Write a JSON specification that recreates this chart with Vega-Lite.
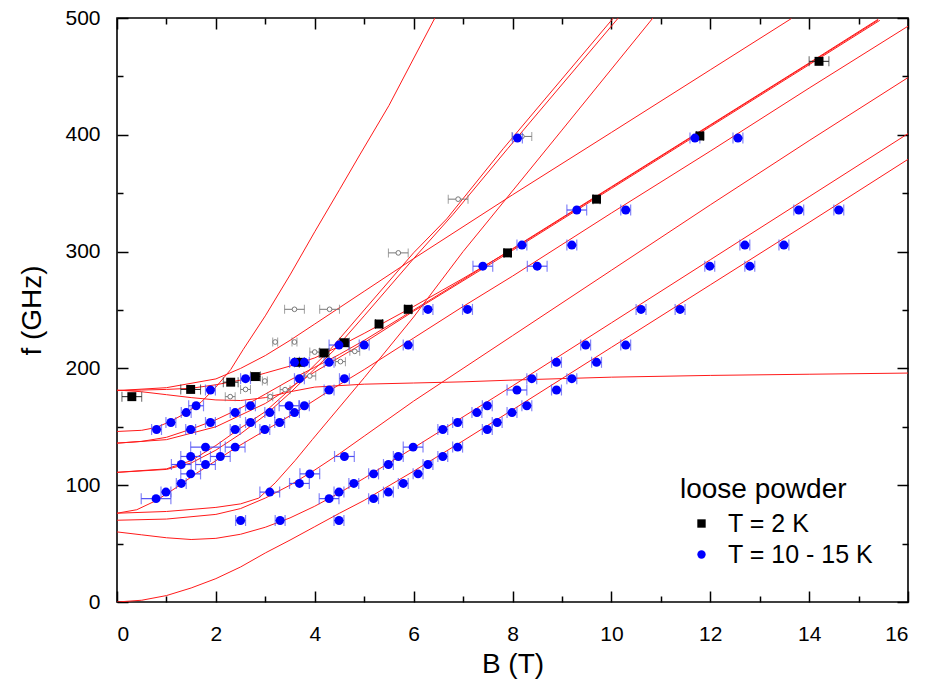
{
"$schema":"https://vega.github.io/schema/vega-lite/v6.json",
"width":791,"height":584,
"autosize":{"type":"none"},
"padding":{"left":117,"top":18,"right":17,"bottom":91},
"background":"white",
"config":{"view":{"stroke":"black","strokeWidth":1.6},"font":"Liberation Sans"},
"datasets":{
"curves":[
{"c":"L1","i":0,"B":0,"f":0},{"c":"L1","i":1,"B":0.5,"f":1.5},{"c":"L1","i":2,"B":1,"f":5.5},{"c":"L1","i":3,"B":1.5,"f":12},{"c":"L1","i":4,"B":2,"f":20},{"c":"L1","i":5,"B":2.5,"f":30},{"c":"L1","i":6,"B":3,"f":42},{"c":"L1","i":7,"B":3.5,"f":53},{"c":"L1","i":8,"B":4,"f":64.5},{"c":"L1","i":9,"B":4.5,"f":76},{"c":"L1","i":10,"B":5,"f":87},{"c":"L1","i":11,"B":6,"f":112},{"c":"L1","i":12,"B":7,"f":138},{"c":"L1","i":13,"B":8,"f":164.5},{"c":"L1","i":14,"B":10,"f":218},{"c":"L1","i":15,"B":12,"f":271.5},{"c":"L1","i":16,"B":14,"f":325},{"c":"L1","i":17,"B":16,"f":379},
{"c":"L2","i":0,"B":0,"f":60},{"c":"L2","i":1,"B":0.5,"f":57.5},{"c":"L2","i":2,"B":1,"f":55},{"c":"L2","i":3,"B":1.5,"f":53.5},{"c":"L2","i":4,"B":2,"f":54.5},{"c":"L2","i":5,"B":2.5,"f":58},{"c":"L2","i":6,"B":3,"f":64},{"c":"L2","i":7,"B":3.5,"f":72},{"c":"L2","i":8,"B":4,"f":82},{"c":"L2","i":9,"B":4.5,"f":93.5},{"c":"L2","i":10,"B":5,"f":106},{"c":"L2","i":11,"B":6,"f":132},{"c":"L2","i":12,"B":7,"f":158.5},{"c":"L2","i":13,"B":8,"f":185},{"c":"L2","i":14,"B":10,"f":239},{"c":"L2","i":15,"B":12,"f":293},{"c":"L2","i":16,"B":14,"f":347},{"c":"L2","i":17,"B":16,"f":401},
{"c":"L3","i":0,"B":0,"f":70},{"c":"L3","i":1,"B":1,"f":71},{"c":"L3","i":2,"B":2,"f":75},{"c":"L3","i":3,"B":2.5,"f":80},{"c":"L3","i":4,"B":3,"f":89},{"c":"L3","i":5,"B":3.5,"f":100},{"c":"L3","i":6,"B":4,"f":113},{"c":"L3","i":7,"B":4.5,"f":127},{"c":"L3","i":8,"B":5,"f":142},{"c":"L3","i":9,"B":6,"f":172},{"c":"L3","i":10,"B":7,"f":200},{"c":"L3","i":11,"B":8,"f":228},{"c":"L3","i":12,"B":10,"f":284},{"c":"L3","i":13,"B":12,"f":340},{"c":"L3","i":14,"B":14,"f":395},{"c":"L3","i":15,"B":16,"f":449},
{"c":"L4","i":0,"B":0,"f":76},{"c":"L4","i":1,"B":0.4,"f":79},{"c":"L4","i":2,"B":0.8,"f":87},{"c":"L4","i":3,"B":1.2,"f":98},{"c":"L4","i":4,"B":1.6,"f":110},{"c":"L4","i":5,"B":2,"f":121},{"c":"L4","i":6,"B":2.4,"f":132},{"c":"L4","i":7,"B":3,"f":147},{"c":"L4","i":8,"B":3.6,"f":162},{"c":"L4","i":9,"B":4.3,"f":181},{"c":"L4","i":10,"B":5,"f":199},{"c":"L4","i":11,"B":6,"f":226},{"c":"L4","i":12,"B":7,"f":253},{"c":"L4","i":13,"B":8,"f":279},{"c":"L4","i":14,"B":10,"f":333},{"c":"L4","i":15,"B":12,"f":386},{"c":"L4","i":16,"B":14,"f":440},{"c":"L4","i":17,"B":16,"f":493},
{"c":"S4","i":0,"B":0,"f":76},{"c":"S4","i":1,"B":1,"f":77.5},{"c":"S4","i":2,"B":2,"f":81},{"c":"S4","i":3,"B":2.5,"f":84},{"c":"S4","i":4,"B":2.87,"f":89},{"c":"S4","i":5,"B":3.2,"f":102},{"c":"S4","i":6,"B":3.6,"f":121},{"c":"S4","i":7,"B":3.95,"f":139},{"c":"S4","i":8,"B":5,"f":192},{"c":"S4","i":9,"B":6,"f":244},{"c":"S4","i":10,"B":7,"f":300},{"c":"S4","i":11,"B":7.54,"f":328},{"c":"S4","i":12,"B":9,"f":404},{"c":"S4","i":13,"B":10.84,"f":500},
{"c":"S2","i":0,"B":0,"f":111},{"c":"S2","i":1,"B":1,"f":114},{"c":"S2","i":2,"B":1.5,"f":121},{"c":"S2","i":3,"B":2,"f":134},{"c":"S2","i":4,"B":2.5,"f":149},{"c":"S2","i":5,"B":3,"f":163},{"c":"S2","i":6,"B":3.5,"f":182},{"c":"S2","i":7,"B":4.31,"f":216},{"c":"S2","i":8,"B":5,"f":250},{"c":"S2","i":9,"B":6,"f":299},{"c":"S2","i":10,"B":6.67,"f":328},{"c":"S2","i":11,"B":7.81,"f":388},{"c":"S2","i":12,"B":10.04,"f":500},
{"c":"S3","i":0,"B":0,"f":111},{"c":"S3","i":1,"B":1,"f":113.5},{"c":"S3","i":2,"B":1.5,"f":119},{"c":"S3","i":3,"B":2,"f":130},{"c":"S3","i":4,"B":2.5,"f":144},{"c":"S3","i":5,"B":3,"f":160},{"c":"S3","i":6,"B":3.5,"f":179},{"c":"S3","i":7,"B":4.4,"f":216},{"c":"S3","i":8,"B":5,"f":245},{"c":"S3","i":9,"B":6,"f":294},{"c":"S3","i":10,"B":6.8,"f":332},{"c":"S3","i":11,"B":7.9,"f":388},{"c":"S3","i":12,"B":10.14,"f":500},
{"c":"S1","i":0,"B":0,"f":146},{"c":"S1","i":1,"B":0.5,"f":147},{"c":"S1","i":2,"B":0.8,"f":149.5},{"c":"S1","i":3,"B":1.1,"f":155},{"c":"S1","i":4,"B":1.4,"f":162},{"c":"S1","i":5,"B":1.7,"f":171},{"c":"S1","i":6,"B":2,"f":184},{"c":"S1","i":7,"B":2.3,"f":199},{"c":"S1","i":8,"B":2.55,"f":216},{"c":"S1","i":9,"B":3,"f":245},{"c":"S1","i":10,"B":3.5,"f":280},{"c":"S1","i":11,"B":4,"f":317},{"c":"S1","i":12,"B":4.5,"f":353},{"c":"S1","i":13,"B":4.92,"f":383.5},{"c":"S1","i":14,"B":5.5,"f":425},{"c":"S1","i":15,"B":6.43,"f":500},
{"c":"a","i":0,"B":0,"f":181},{"c":"a","i":1,"B":1,"f":183.5},{"c":"a","i":2,"B":2,"f":191},{"c":"a","i":3,"B":2.5,"f":200},{"c":"a","i":4,"B":3,"f":211},{"c":"a","i":5,"B":3.5,"f":224},{"c":"a","i":6,"B":4,"f":238},{"c":"a","i":7,"B":5,"f":266},{"c":"a","i":8,"B":6,"f":294},{"c":"a","i":9,"B":8,"f":348.6},{"c":"a","i":10,"B":10,"f":402},{"c":"a","i":11,"B":12,"f":455.6},{"c":"a","i":12,"B":13.64,"f":499.5},
{"c":"b1","i":0,"B":0,"f":181},{"c":"b1","i":1,"B":0.5,"f":181.5},{"c":"b1","i":2,"B":1,"f":182},{"c":"b1","i":3,"B":1.5,"f":183},{"c":"b1","i":4,"B":2,"f":186},{"c":"b1","i":5,"B":2.5,"f":190},{"c":"b1","i":6,"B":3,"f":196},{"c":"b1","i":7,"B":3.5,"f":202},{"c":"b1","i":8,"B":4,"f":209},{"c":"b1","i":9,"B":4.5,"f":219},{"c":"b1","i":10,"B":5,"f":230},{"c":"b1","i":11,"B":6,"f":253},{"c":"b1","i":12,"B":7,"f":277},{"c":"b1","i":13,"B":8,"f":302},{"c":"b1","i":14,"B":10,"f":355},{"c":"b1","i":15,"B":12,"f":408},{"c":"b1","i":16,"B":14,"f":461},{"c":"b1","i":17,"B":15.39,"f":498},
{"c":"b2","i":0,"B":0,"f":136},{"c":"b2","i":1,"B":0.5,"f":137.5},{"c":"b2","i":2,"B":1,"f":141},{"c":"b2","i":3,"B":1.5,"f":148},{"c":"b2","i":4,"B":2,"f":156},{"c":"b2","i":5,"B":2.5,"f":166},{"c":"b2","i":6,"B":3,"f":178},{"c":"b2","i":7,"B":3.5,"f":190},{"c":"b2","i":8,"B":4,"f":201},{"c":"b2","i":9,"B":4.5,"f":212},{"c":"b2","i":10,"B":5,"f":224},{"c":"b2","i":11,"B":6,"f":250},{"c":"b2","i":12,"B":7,"f":276},{"c":"b2","i":13,"B":8,"f":302.5},{"c":"b2","i":14,"B":10,"f":355.5},{"c":"b2","i":15,"B":12,"f":408.5},{"c":"b2","i":16,"B":14,"f":461.5},{"c":"b2","i":17,"B":15.4,"f":499},
{"c":"b3","i":0,"B":0,"f":136},{"c":"b3","i":1,"B":1,"f":139},{"c":"b3","i":2,"B":2,"f":150},{"c":"b3","i":3,"B":3,"f":170},{"c":"b3","i":4,"B":4,"f":197},{"c":"b3","i":5,"B":5,"f":222},{"c":"b3","i":6,"B":6,"f":249},{"c":"b3","i":7,"B":8,"f":301},{"c":"b3","i":8,"B":10,"f":354},{"c":"b3","i":9,"B":12,"f":407},{"c":"b3","i":10,"B":14,"f":460},{"c":"b3","i":11,"B":15.43,"f":498},
{"c":"A","i":0,"B":0,"f":181.5},{"c":"A","i":1,"B":0.5,"f":180},{"c":"A","i":2,"B":1,"f":177.5},{"c":"A","i":3,"B":1.5,"f":175},{"c":"A","i":4,"B":2,"f":173},{"c":"A","i":5,"B":2.5,"f":172.5},{"c":"A","i":6,"B":3,"f":175},{"c":"A","i":7,"B":3.5,"f":180},{"c":"A","i":8,"B":4,"f":184},{"c":"A","i":9,"B":5,"f":186.5},{"c":"A","i":10,"B":6,"f":187.5},{"c":"A","i":11,"B":7,"f":188.5},{"c":"A","i":12,"B":8,"f":190},{"c":"A","i":13,"B":10,"f":192.5},{"c":"A","i":14,"B":12,"f":194},{"c":"A","i":15,"B":14,"f":195},{"c":"A","i":16,"B":16,"f":196}
],
"gray":[
{"B":2.29,"f":175.8,"lo":2.19,"hi":2.39},{"B":2.6,"f":182,"lo":2.5,"hi":2.7},{"B":2.99,"f":189.2,"lo":2.94,"hi":3.04},{"B":3.1,"f":175.8,"lo":3.05,"hi":3.15},{"B":3.4,"f":181.8,"lo":3.3,"hi":3.5},{"B":3.2,"f":222.6,"lo":3.15,"hi":3.25},{"B":3.59,"f":222.6,"lo":3.54,"hi":3.64},{"B":3.9,"f":193.5,"lo":3.78,"hi":4.02},{"B":4.0,"f":214,"lo":3.9,"hi":4.1},{"B":4.52,"f":205.8,"lo":4.42,"hi":4.62},{"B":4.81,"f":214.6,"lo":4.71,"hi":4.91},{"B":3.59,"f":250.6,"lo":3.39,"hi":3.79},{"B":4.3,"f":250.6,"lo":4.1,"hi":4.5},{"B":5.69,"f":298.9,"lo":5.49,"hi":5.89},{"B":6.9,"f":344.9,"lo":6.7,"hi":7.1},{"B":8.19,"f":398.6,"lo":7.99,"hi":8.39}
],
"pts":[
{"s":"T = 2 K","B":0.3,"f":175.8,"lo":0.1,"hi":0.5},{"s":"T = 2 K","B":1.49,"f":182,"lo":1.29,"hi":1.69},{"s":"T = 2 K","B":2.3,"f":188.2,"lo":2.15,"hi":2.45},{"s":"T = 2 K","B":2.8,"f":193,"lo":2.7,"hi":2.9},{"s":"T = 2 K","B":3.69,"f":205.2,"lo":3.59,"hi":3.79},{"s":"T = 2 K","B":4.19,"f":213.2,"lo":4.09,"hi":4.29},{"s":"T = 2 K","B":4.6,"f":222,"lo":4.5,"hi":4.7},{"s":"T = 2 K","B":5.3,"f":238,"lo":5.23,"hi":5.37},{"s":"T = 2 K","B":5.89,"f":250.6,"lo":5.82,"hi":5.96},{"s":"T = 2 K","B":7.9,"f":298.9,"lo":7.83,"hi":7.97},{"s":"T = 2 K","B":9.7,"f":344.9,"lo":9.63,"hi":9.77},{"s":"T = 2 K","B":11.79,"f":399,"lo":11.72,"hi":11.86},{"s":"T = 2 K","B":14.2,"f":462.9,"lo":14.0,"hi":14.4},
{"s":"T = 10 - 15 K","B":0.79,"f":88.5,"lo":0.49,"hi":1.09},{"s":"T = 10 - 15 K","B":0.99,"f":94.1,"lo":0.89,"hi":1.09},{"s":"T = 10 - 15 K","B":1.3,"f":101.5,"lo":1.2,"hi":1.4},{"s":"T = 10 - 15 K","B":1.49,"f":109.7,"lo":1.29,"hi":1.69},{"s":"T = 10 - 15 K","B":1.3,"f":117.7,"lo":1.1,"hi":1.5},{"s":"T = 10 - 15 K","B":1.79,"f":117.7,"lo":1.59,"hi":1.99},{"s":"T = 10 - 15 K","B":1.49,"f":124.6,"lo":1.29,"hi":1.69},{"s":"T = 10 - 15 K","B":2.09,"f":124.6,"lo":1.89,"hi":2.29},{"s":"T = 10 - 15 K","B":1.79,"f":132.6,"lo":1.49,"hi":2.09},{"s":"T = 10 - 15 K","B":2.39,"f":132.6,"lo":2.19,"hi":2.59},
{"s":"T = 10 - 15 K","B":0.8,"f":147.7,"lo":0.7,"hi":0.9},{"s":"T = 10 - 15 K","B":1.09,"f":153.7,"lo":0.99,"hi":1.19},{"s":"T = 10 - 15 K","B":1.4,"f":162.2,"lo":1.3,"hi":1.5},{"s":"T = 10 - 15 K","B":1.6,"f":168,"lo":1.45,"hi":1.75},{"s":"T = 10 - 15 K","B":1.89,"f":181.5,"lo":1.79,"hi":1.99},{"s":"T = 10 - 15 K","B":2.6,"f":191.2,"lo":2.5,"hi":2.7},
{"s":"T = 10 - 15 K","B":1.49,"f":147.7,"lo":1.39,"hi":1.59},{"s":"T = 10 - 15 K","B":1.89,"f":153.7,"lo":1.79,"hi":1.99},{"s":"T = 10 - 15 K","B":2.39,"f":162.2,"lo":2.29,"hi":2.49},{"s":"T = 10 - 15 K","B":2.7,"f":168,"lo":2.6,"hi":2.8},
{"s":"T = 10 - 15 K","B":2.39,"f":147.7,"lo":2.29,"hi":2.49},{"s":"T = 10 - 15 K","B":2.7,"f":153.7,"lo":2.6,"hi":2.8},{"s":"T = 10 - 15 K","B":2.99,"f":147.7,"lo":2.89,"hi":3.09},{"s":"T = 10 - 15 K","B":3.29,"f":153.7,"lo":3.19,"hi":3.39},{"s":"T = 10 - 15 K","B":3.09,"f":162.2,"lo":2.99,"hi":3.19},{"s":"T = 10 - 15 K","B":3.48,"f":168,"lo":3.28,"hi":3.68},{"s":"T = 10 - 15 K","B":3.59,"f":162.2,"lo":3.49,"hi":3.69},{"s":"T = 10 - 15 K","B":3.79,"f":168,"lo":3.69,"hi":3.89},
{"s":"T = 10 - 15 K","B":4.29,"f":181.5,"lo":4.19,"hi":4.39},{"s":"T = 10 - 15 K","B":4.6,"f":191.2,"lo":4.5,"hi":4.7},{"s":"T = 10 - 15 K","B":3.69,"f":191.2,"lo":3.59,"hi":3.79},{"s":"T = 10 - 15 K","B":4.29,"f":205.2,"lo":4.19,"hi":4.39},{"s":"T = 10 - 15 K","B":3.59,"f":205.2,"lo":3.49,"hi":3.69},{"s":"T = 10 - 15 K","B":3.79,"f":205.2,"lo":3.69,"hi":3.89},{"s":"T = 10 - 15 K","B":4.49,"f":220,"lo":4.29,"hi":4.69},{"s":"T = 10 - 15 K","B":5.0,"f":220,"lo":4.9,"hi":5.1},{"s":"T = 10 - 15 K","B":5.89,"f":220,"lo":5.79,"hi":5.99},
{"s":"T = 10 - 15 K","B":3.09,"f":94.1,"lo":2.89,"hi":3.29},{"s":"T = 10 - 15 K","B":3.69,"f":101.5,"lo":3.49,"hi":3.89},{"s":"T = 10 - 15 K","B":3.9,"f":109.7,"lo":3.7,"hi":4.1},{"s":"T = 10 - 15 K","B":4.6,"f":124.6,"lo":4.4,"hi":4.8},
{"s":"T = 10 - 15 K","B":2.5,"f":69.8,"lo":2.4,"hi":2.6},{"s":"T = 10 - 15 K","B":3.3,"f":69.8,"lo":3.2,"hi":3.4},{"s":"T = 10 - 15 K","B":4.49,"f":69.8,"lo":4.39,"hi":4.59},{"s":"T = 10 - 15 K","B":4.29,"f":88.5,"lo":4.09,"hi":4.49},{"s":"T = 10 - 15 K","B":4.49,"f":94.1,"lo":4.39,"hi":4.59},{"s":"T = 10 - 15 K","B":4.79,"f":101.5,"lo":4.69,"hi":4.89},
{"s":"T = 10 - 15 K","B":5.19,"f":109.7,"lo":5.09,"hi":5.29},{"s":"T = 10 - 15 K","B":5.49,"f":117.7,"lo":5.39,"hi":5.59},{"s":"T = 10 - 15 K","B":5.69,"f":124.6,"lo":5.59,"hi":5.79},{"s":"T = 10 - 15 K","B":5.99,"f":132.6,"lo":5.79,"hi":6.19},
{"s":"T = 10 - 15 K","B":5.19,"f":88.5,"lo":5.09,"hi":5.29},{"s":"T = 10 - 15 K","B":5.49,"f":94.1,"lo":5.39,"hi":5.59},{"s":"T = 10 - 15 K","B":5.79,"f":101.5,"lo":5.69,"hi":5.89},{"s":"T = 10 - 15 K","B":6.09,"f":109.7,"lo":5.99,"hi":6.19},{"s":"T = 10 - 15 K","B":6.29,"f":117.7,"lo":6.19,"hi":6.39},{"s":"T = 10 - 15 K","B":6.59,"f":124.6,"lo":6.49,"hi":6.69},{"s":"T = 10 - 15 K","B":6.89,"f":132.6,"lo":6.79,"hi":6.99},
{"s":"T = 10 - 15 K","B":6.59,"f":147.7,"lo":6.49,"hi":6.69},{"s":"T = 10 - 15 K","B":6.89,"f":153.7,"lo":6.79,"hi":6.99},{"s":"T = 10 - 15 K","B":7.28,"f":162.2,"lo":7.18,"hi":7.38},
{"s":"T = 10 - 15 K","B":7.49,"f":147.7,"lo":7.39,"hi":7.59},{"s":"T = 10 - 15 K","B":7.69,"f":153.7,"lo":7.59,"hi":7.79},{"s":"T = 10 - 15 K","B":7.99,"f":162.2,"lo":7.89,"hi":8.09},{"s":"T = 10 - 15 K","B":8.29,"f":168,"lo":8.19,"hi":8.39},{"s":"T = 10 - 15 K","B":8.89,"f":181.5,"lo":8.79,"hi":8.99},{"s":"T = 10 - 15 K","B":9.2,"f":191.2,"lo":9.1,"hi":9.3},{"s":"T = 10 - 15 K","B":9.7,"f":205.2,"lo":9.6,"hi":9.8},{"s":"T = 10 - 15 K","B":10.29,"f":220,"lo":10.19,"hi":10.39},
{"s":"T = 10 - 15 K","B":7.49,"f":168,"lo":7.39,"hi":7.59},{"s":"T = 10 - 15 K","B":8.09,"f":181.5,"lo":7.89,"hi":8.29},{"s":"T = 10 - 15 K","B":8.39,"f":191.2,"lo":8.29,"hi":8.49},{"s":"T = 10 - 15 K","B":8.89,"f":205.2,"lo":8.79,"hi":8.99},{"s":"T = 10 - 15 K","B":9.48,"f":220,"lo":9.38,"hi":9.58},
{"s":"T = 10 - 15 K","B":10.6,"f":250.5,"lo":10.5,"hi":10.7},{"s":"T = 10 - 15 K","B":11.39,"f":250.5,"lo":11.29,"hi":11.49},{"s":"T = 10 - 15 K","B":11.99,"f":287.5,"lo":11.89,"hi":12.09},{"s":"T = 10 - 15 K","B":12.8,"f":287.5,"lo":12.7,"hi":12.9},{"s":"T = 10 - 15 K","B":12.7,"f":305.6,"lo":12.6,"hi":12.8},{"s":"T = 10 - 15 K","B":13.49,"f":305.6,"lo":13.39,"hi":13.59},{"s":"T = 10 - 15 K","B":13.79,"f":335.6,"lo":13.69,"hi":13.89},{"s":"T = 10 - 15 K","B":14.6,"f":335.6,"lo":14.5,"hi":14.7},
{"s":"T = 10 - 15 K","B":8.1,"f":397.2,"lo":8.0,"hi":8.2},{"s":"T = 10 - 15 K","B":9.3,"f":335.6,"lo":9.1,"hi":9.5},{"s":"T = 10 - 15 K","B":10.29,"f":335.6,"lo":10.19,"hi":10.39},{"s":"T = 10 - 15 K","B":8.19,"f":305.6,"lo":8.09,"hi":8.29},{"s":"T = 10 - 15 K","B":9.2,"f":305.6,"lo":9.1,"hi":9.3},{"s":"T = 10 - 15 K","B":8.5,"f":287.5,"lo":8.3,"hi":8.7},{"s":"T = 10 - 15 K","B":7.4,"f":287.5,"lo":7.2,"hi":7.6},
{"s":"T = 10 - 15 K","B":11.69,"f":397.2,"lo":11.59,"hi":11.79},{"s":"T = 10 - 15 K","B":12.56,"f":397.2,"lo":12.46,"hi":12.66},{"s":"T = 10 - 15 K","B":6.29,"f":250.5,"lo":6.19,"hi":6.39},{"s":"T = 10 - 15 K","B":7.09,"f":250.5,"lo":6.99,"hi":7.19}
]
},
"layer":[
{"data":{"name":"curves"},"mark":{"type":"line","color":"#ff1a1a","strokeWidth":1,"clip":true},
"encoding":{
"x":{"field":"B","type":"quantitative","scale":{"domain":[0,16],"nice":false,"zero":false},
"axis":{"orient":"bottom","values":[0,2,4,6,8,10,12,14,16],"title":"B (T)","domain":false,"grid":false,"tickSize":-11,"tickColor":"black","tickWidth":1.5,"labelFontSize":21,"labelColor":"black","labelPadding":32,"titleFontSize":28,"titleFontWeight":"normal","titleColor":"black","titlePadding":6,"labelFont":"Liberation Sans","titleFont":"Liberation Sans"}},
"y":{"field":"f","type":"quantitative","scale":{"domain":[0,500],"nice":false,"zero":false},
"axis":{"orient":"left","values":[0,100,200,300,400,500],"title":"f (GHz)","domain":false,"grid":false,"tickSize":-11,"tickColor":"black","tickWidth":1.5,"labelFontSize":21,"labelColor":"black","labelPadding":28,"titleFontSize":28,"titleFontWeight":"normal","titleColor":"black","titlePadding":18,"labelFont":"Liberation Sans","titleFont":"Liberation Sans"}},
"detail":{"field":"c"},"order":{"field":"i","type":"quantitative"}}},
{"data":{"name":"gray"},"mark":{"type":"rule","color":"#777777","strokeWidth":1},
"encoding":{"x":{"field":"lo","type":"quantitative","axis":{"orient":"bottom","values":[1,3,5,7,9,11,13,15],"labels":false,"title":null,"domain":false,"grid":false,"tickSize":-6,"tickColor":"black","tickWidth":1.5}},"x2":{"field":"hi"},
"y":{"field":"f","type":"quantitative","axis":{"orient":"left","values":[50,150,250,350,450],"labels":false,"title":null,"domain":false,"grid":false,"tickSize":-6,"tickColor":"black","tickWidth":1.5}}}},
{"data":{"name":"gray"},"transform":[{"fold":["lo","hi"],"as":["k","e"]}],"mark":{"type":"tick","orient":"vertical","color":"#777777","size":9,"thickness":1},
"encoding":{"x":{"field":"e","type":"quantitative","axis":{"orient":"top","values":[0,2,4,6,8,10,12,14,16],"labels":false,"title":null,"domain":false,"grid":false,"tickSize":-11,"tickColor":"black","tickWidth":1.5}},
"y":{"field":"f","type":"quantitative","axis":{"orient":"right","values":[0,100,200,300,400,500],"labels":false,"title":null,"domain":false,"grid":false,"tickSize":-11,"tickColor":"black","tickWidth":1.5}}}},
{"data":{"name":"gray"},"mark":{"type":"point","shape":"circle","filled":false,"fill":"white","stroke":"#777777","strokeWidth":1,"size":22,"opacity":1},
"encoding":{"x":{"field":"B","type":"quantitative","axis":{"orient":"top","values":[1,3,5,7,9,11,13,15],"labels":false,"title":null,"domain":false,"grid":false,"tickSize":-6,"tickColor":"black","tickWidth":1.5}},
"y":{"field":"f","type":"quantitative","axis":{"orient":"right","values":[50,150,250,350,450],"labels":false,"title":null,"domain":false,"grid":false,"tickSize":-6,"tickColor":"black","tickWidth":1.5}}}},
{"data":{"name":"pts"},"transform":[{"filter":"datum.s == 'T = 2 K'"}],"mark":{"type":"rule","color":"#222222","strokeWidth":1},
"encoding":{"x":{"field":"lo","type":"quantitative","axis":null},"x2":{"field":"hi"},"y":{"field":"f","type":"quantitative","axis":null}}},
{"data":{"name":"pts"},"transform":[{"filter":"datum.s == 'T = 2 K'"},{"fold":["lo","hi"],"as":["k","e"]}],"mark":{"type":"tick","orient":"vertical","color":"#222222","size":10,"thickness":1},
"encoding":{"x":{"field":"e","type":"quantitative","axis":null},"y":{"field":"f","type":"quantitative","axis":null}}},
{"data":{"name":"pts"},"transform":[{"filter":"datum.s != 'T = 2 K'"}],"mark":{"type":"rule","color":"#5050f5","strokeWidth":1.2},
"encoding":{"x":{"field":"lo","type":"quantitative","axis":null},"x2":{"field":"hi"},"y":{"field":"f","type":"quantitative","axis":null}}},
{"data":{"name":"pts"},"transform":[{"filter":"datum.s != 'T = 2 K'"},{"fold":["lo","hi"],"as":["k","e"]}],"mark":{"type":"tick","orient":"vertical","color":"#5050f5","size":11,"thickness":1.2},
"encoding":{"x":{"field":"e","type":"quantitative","axis":null},"y":{"field":"f","type":"quantitative","axis":null}}},
{"data":{"name":"pts"},"mark":{"type":"point","filled":true,"opacity":1,"size":80,"strokeWidth":0},
"encoding":{"x":{"field":"B","type":"quantitative","axis":null},"y":{"field":"f","type":"quantitative","axis":null},
"color":{"field":"s","type":"nominal","scale":{"domain":["T = 2 K","T = 10 - 15 K"],"range":["#000000","#0000ff"]},
"legend":{"title":"loose powder","orient":"none","legendX":563,"legendY":458,"titleFontSize":28,"titleFontWeight":"normal","titleColor":"black","titleFont":"Liberation Sans","labelFont":"Liberation Sans","labelFontSize":25,"labelColor":"black","symbolSize":70,"rowPadding":5,"titlePadding":7,"labelOffset":14,"symbolOffset":9}},
"shape":{"field":"s","type":"nominal","scale":{"domain":["T = 2 K","T = 10 - 15 K"],"range":["square","circle"]},
"legend":{"title":"loose powder","orient":"none","legendX":563,"legendY":458,"titleFontSize":28,"titleFontWeight":"normal","titleColor":"black","titleFont":"Liberation Sans","labelFont":"Liberation Sans","labelFontSize":25,"labelColor":"black","symbolSize":70,"rowPadding":5,"titlePadding":7,"labelOffset":14,"symbolOffset":9}}}}
],
"resolve":{"axis":{"x":"independent","y":"independent"}}
}
